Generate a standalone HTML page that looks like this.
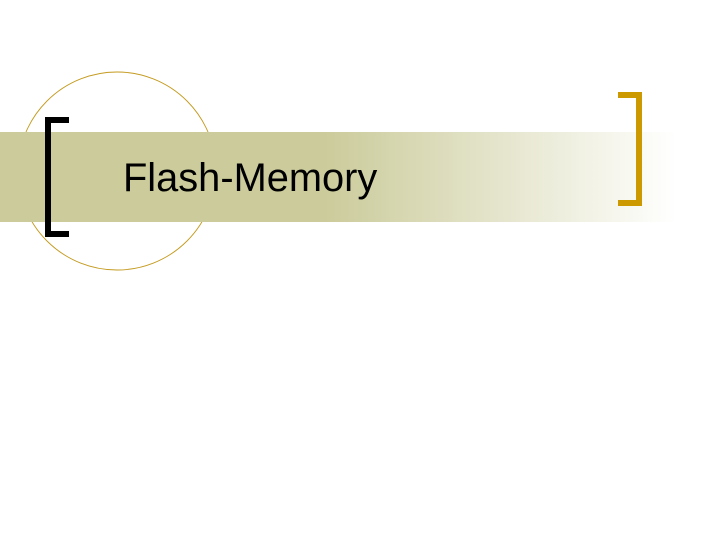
<!DOCTYPE html>
<html>
<head>
<meta charset="utf-8">
<style>
html,body{margin:0;padding:0;background:#fff;}
#s{position:relative;width:720px;height:540px;overflow:hidden;background:#fff;}
svg{position:absolute;left:0;top:0;}
text{font-family:"Liberation Sans",sans-serif;}
</style>
</head>
<body>
<div id="s">
<svg width="720" height="540" viewBox="0 0 720 540">
<defs>
<linearGradient id="g" x1="0" y1="0" x2="720" y2="0" gradientUnits="userSpaceOnUse">
<stop offset="0" stop-color="#cbcb9b"/>
<stop offset="0.45" stop-color="#cbcb9b"/>
<stop offset="0.94" stop-color="#ffffff"/>
<stop offset="1" stop-color="#ffffff"/>
</linearGradient>
</defs>
<circle cx="117" cy="171" r="99" fill="#fff" stroke="#c49a1e" stroke-width="0.9"/>
<rect x="0" y="132" width="720" height="90" fill="url(#g)"/>
<path d="M45 117H69V123H51V231H69V237H45Z" fill="#000" shape-rendering="crispEdges"/>
<path d="M618 92H642V206H618V200H636V98H618Z" fill="#cc9900" shape-rendering="crispEdges"/>
<text x="123" y="191" font-size="39.8" fill="#000">Flash-Memory</text>
</svg>
</div>
</body>
</html>
